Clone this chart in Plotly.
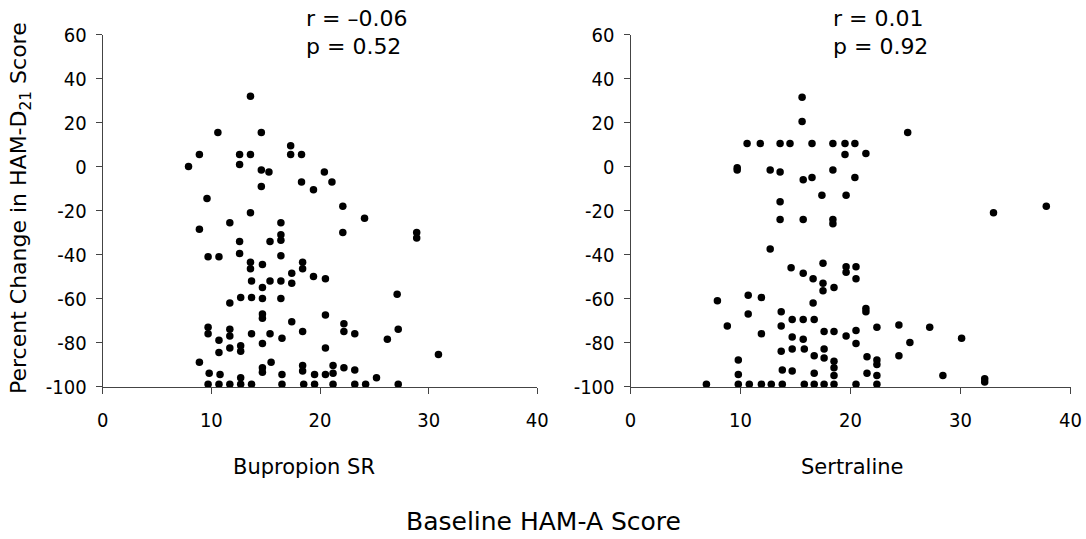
import plotly.graph_objects as go

# ---------------- data ----------------
bup_x = [13.6, 10.6, 14.6, 17.3, 8.9, 12.6, 13.6, 17.3, 18.3, 7.9, 12.6, 14.6, 15.3, 20.4,
         18.3, 21.1, 19.4, 14.6, 9.6, 13.6, 11.7, 16.4, 8.9, 16.4, 16.4, 12.6, 15.4, 22.1,
         24.1, 22.1, 28.9, 28.9, 9.7, 10.7, 12.6, 16.4, 13.6, 13.6, 14.7, 18.4, 18.4, 17.4,
         19.4, 20.5, 13.7, 14.7, 15.4, 16.4, 17.4, 11.7, 12.7, 13.7, 14.7, 16.4, 14.7, 14.7,
         17.4, 20.5, 9.7, 9.7, 10.7, 11.7, 11.7, 13.7, 15.4, 18.4, 16.5, 10.7, 11.7, 12.7,
         12.7, 14.7, 20.5, 8.9, 9.8, 10.8, 12.7, 14.7, 14.7, 15.5, 16.5, 18.4, 18.4, 19.5,
         20.5, 27.1, 22.2, 22.2, 23.2, 27.2, 26.2, 30.9, 21.2, 22.2, 23.2, 21.2, 25.2,
         9.7, 10.7, 11.7, 12.7, 13.7, 16.5, 18.5, 19.5, 21.2, 23.2, 24.2, 27.2]
bup_y = [32, 15.5, 15.5, 9.5, 5.5, 5.5, 5.5, 5.5, 5.5, 0, 1, -1.5, -2.5, -2.5,
         -7, -7, -10.5, -9, -14.5, -21, -25.5, -25.5, -28.5, -31, -33.5, -34, -34, -18,
         -23.5, -30, -30, -32.5, -41, -41, -39.5, -40.5, -43.5, -46.5, -44.5, -43.5, -46.5, -48.5,
         -50, -51, -52, -55, -52, -52, -53, -62, -59.5, -59.5, -60, -60, -67, -69,
         -70.5, -67.5, -73, -76, -79, -74, -77, -76, -76, -75, -78, -84.5, -82.5, -81.5,
         -84, -80.5, -82.5, -89, -94, -94.5, -96, -91.5, -93.5, -89, -94.5, -90.5, -93, -94.5,
         -94.5, -58, -71.5, -75, -76, -74, -78.5, -85.5, -90.5, -91.5, -92.5, -94, -96,
         -99, -99, -99, -99, -99, -99, -99, -99, -99, -99, -99, -99]

ser_x = [15.6, 15.6, 10.6, 11.8, 13.6, 14.5, 16.5, 18.4, 19.5, 20.4, 19.5, 21.4, 25.2,
         9.7, 9.7, 12.7, 13.6, 15.7, 16.5, 18.4, 20.4, 17.4, 19.6, 13.6, 13.6, 15.7, 18.4,
         18.4, 33.0, 37.8, 12.7, 14.6, 15.7, 16.6, 17.5, 17.5, 17.5, 18.5, 19.6, 19.6, 20.5,
         20.5, 7.9, 10.7, 11.9, 16.6, 10.7, 13.7, 21.4, 21.4, 8.8, 13.7, 14.7, 15.7, 16.7,
         11.9, 14.7, 15.7, 17.6, 18.5, 19.6, 20.5, 20.5, 22.4, 24.4, 27.2, 25.4, 30.1,
         13.7, 14.7, 15.8, 16.7, 17.6, 17.6, 18.5, 18.5, 18.5, 9.8, 9.8, 13.8, 14.7, 16.7,
         21.5, 22.4, 22.4, 24.4, 21.5, 22.4, 28.4, 32.2, 32.2,
         6.9, 9.8, 10.8, 11.9, 12.8, 13.8, 15.8, 16.7, 17.6, 18.5, 20.5, 22.4]
ser_y = [31.5, 20.5, 10.5, 10.5, 10.5, 10.5, 10.5, 10.5, 10.5, 10.5, 5.5, 6, 15.5,
         -0.5, -1.5, -1.5, -2.5, -6, -5, -1.5, -5, -13, -13, -16, -24, -24, -24,
         -26, -21, -18, -37.5, -46, -48.5, -51, -44, -53, -56.5, -55, -45.5, -48, -45.5,
         -51, -61, -58.5, -59.5, -62, -67, -66, -64.5, -66, -72.5, -72.5, -69.5, -69.5, -69.5,
         -76, -77.5, -78.5, -75, -75, -77, -74.5, -80.5, -73, -72, -73, -80, -78,
         -84, -83, -83, -86, -83, -87, -88.5, -91.5, -95, -88, -94.5, -92.5, -93, -94,
         -86.5, -88, -90, -86, -94, -95, -95, -96.5, -98,
         -99, -99, -99, -99, -99, -99, -99, -99, -99, -99, -99, -99]

x_ticks = [0, 10, 20, 30, 40]
x_labels = ["0", "10", "20", "30", "40"]
y_ticks = [-100, -80, -60, -40, -20, 0, 20, 40, 60]
y_labels = ["-100", "-80", "-60", "-40", "-20", "0", "20", "40", "60"]

panel_titles = ["Bupropion SR", "Sertraline"]
stats_r = ["r = \u20130.06", "r = 0.01"]
stats_p = ["p = 0.52", "p = 0.92"]

# ---------------- figure ----------------
W, H = 1086, 539
FONT = "DejaVu Sans Condensed, DejaVu Sans, Verdana, sans-serif"
FONT2 = "DejaVu Sans, Verdana, sans-serif"

def px(v):
    return v / W

def py(v):
    return 1 - v / H

fig = go.Figure()
fig.add_trace(go.Scatter(x=bup_x, y=bup_y, mode="markers", xaxis="x", yaxis="y",
                         marker=dict(color="black", size=7.5), cliponaxis=False,
                         showlegend=False))
fig.add_trace(go.Scatter(x=ser_x, y=ser_y, mode="markers", xaxis="x2", yaxis="y2",
                         marker=dict(color="black", size=7.5), cliponaxis=False,
                         showlegend=False))

top_px, bot_px = 34.7, 386.5
ydom = [py(bot_px), py(top_px)]
xdom1 = [px(102.7), px(537.3)]
xdom2 = [px(630.5), px(1070.5)]

axis_common_x = dict(range=[0, 40], tickvals=x_ticks, ticktext=x_labels,
                     showline=True, linecolor="#444", linewidth=1, showgrid=False,
                     zeroline=False, ticks="outside", ticklen=6, tickcolor="#444",
                     tickfont=dict(family=FONT, size=20, color="black"),
                     ticklabelstandoff=9, fixedrange=True, automargin=False)
axis_common_y = dict(range=[-100, 60], tickvals=y_ticks, ticktext=y_labels,
                     showline=True, linecolor="#444", linewidth=1, showgrid=False,
                     zeroline=False, ticks="outside", ticklen=6, tickcolor="#444",
                     tickfont=dict(family=FONT, size=20, color="black"),
                     ticklabelstandoff=5, fixedrange=True, automargin=False)

fig.update_layout(
    width=W, height=H,
    margin=dict(l=0, r=0, t=0, b=0, pad=0),
    paper_bgcolor="white", plot_bgcolor="white",
    xaxis=dict(domain=xdom1, anchor="y", **axis_common_x),
    yaxis=dict(domain=ydom, anchor="x", **axis_common_y),
    xaxis2=dict(domain=xdom2, anchor="y2", **axis_common_x),
    yaxis2=dict(domain=ydom, anchor="x2", **axis_common_y),
)

ann = []
for cx, t in [(303.5, panel_titles[0]), (852.0, panel_titles[1])]:
    ann.append(dict(x=px(cx), y=py(467), xref="paper", yref="paper", text=t,
                    showarrow=False, xanchor="center", yanchor="middle",
                    font=dict(family=FONT2, size=21, color="black")))
for lx, r, p in [(304.0, stats_r[0], stats_p[0]), (831.0, stats_r[1], stats_p[1])]:
    ann.append(dict(x=px(lx), y=py(18), xref="paper", yref="paper", text=r,
                    showarrow=False, xanchor="left", yanchor="middle",
                    font=dict(family=FONT2, size=22, color="black")))
    ann.append(dict(x=px(lx), y=py(47), xref="paper", yref="paper", text=p,
                    showarrow=False, xanchor="left", yanchor="middle",
                    font=dict(family=FONT2, size=22, color="black")))
ann.append(dict(x=px(543), y=py(521), xref="paper", yref="paper",
                text="Baseline HAM-A Score", showarrow=False,
                xanchor="center", yanchor="middle",
                font=dict(family=FONT2, size=25, color="black")))
ann.append(dict(x=px(20), y=py(208), xref="paper", yref="paper",
                text="Percent Change in HAM-D<sub>21</sub> Score", showarrow=False,
                textangle=-90, xanchor="center", yanchor="middle",
                font=dict(family=FONT2, size=22, color="black")))
fig.update_layout(annotations=ann)

fig.write_html("out.html",
               config={"displayModeBar": False},
               post_script="document.body.style.margin='0';"
                           "document.body.style.padding='0';"
                           "document.body.style.overflow='hidden';")
